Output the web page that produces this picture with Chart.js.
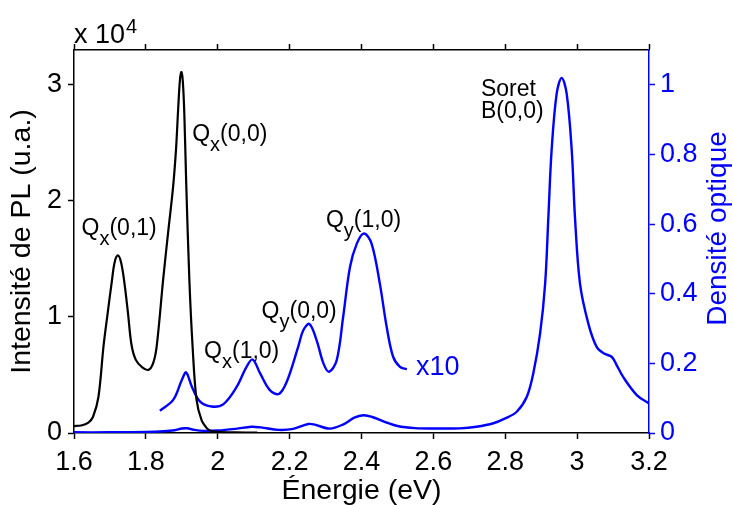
<!DOCTYPE html>
<html>
<head>
<meta charset="utf-8">
<script src="https://cdn.jsdelivr.net/npm/chart.js@4.4.1/dist/chart.umd.min.js"></script>
<style>
  html, body { margin: 0; padding: 0; background: #fff; }
</style>
</head>
<body>
<canvas id="spectre" width="733" height="505"></canvas>
<script>
// photoluminescence (left axis, counts)
const plEnergy = [1.60, 1.62, 1.64, 1.653, 1.668, 1.682, 1.694, 1.705, 1.713, 1.722, 1.731, 1.740, 1.750, 1.760, 1.772, 1.790, 1.807,
  1.82, 1.830, 1.848, 1.862, 1.876, 1.884, 1.890, 1.895, 1.899, 1.903, 1.907, 1.912, 1.921, 1.930, 1.941, 1.955, 1.97, 1.98, 2.00, 2.05, 2.11];
const plCounts = [600, 650, 900, 1400, 3100, 7450, 10400, 13000, 14700, 15300, 14700, 13000, 10400, 7600, 6300, 5650, 5440,
  6000, 7450, 13200, 17300, 21300, 24500, 28000, 30500, 31100, 30200, 27500, 21800, 13200, 7450, 2850, 1100, 400, 200, 100, 50, 30];

// optical density (right axis)
const absEnergy = [1.60, 1.70, 1.80, 1.85, 1.88, 1.90, 1.915, 1.93, 1.96, 2.00, 2.05, 2.094, 2.12, 2.17, 2.21, 2.252, 2.27, 2.312,
  2.35, 2.38, 2.405, 2.43, 2.47, 2.50, 2.55, 2.60, 2.674, 2.72, 2.767, 2.80, 2.832, 2.86, 2.878, 2.897, 2.911, 2.920, 2.929,
  2.943, 2.957, 2.971, 2.985, 2.994, 3.008, 3.031, 3.054, 3.075, 3.096, 3.11, 3.128, 3.166, 3.20];
const absDensity = [0.002, 0.002, 0.003, 0.005, 0.008, 0.013, 0.0135, 0.010, 0.006, 0.007, 0.012, 0.018, 0.016, 0.009, 0.012, 0.026, 0.024, 0.0125,
  0.025, 0.044, 0.051, 0.046, 0.030, 0.020, 0.014, 0.013, 0.0134, 0.018, 0.028, 0.042, 0.061, 0.104, 0.171, 0.286, 0.429, 0.620, 0.812,
  0.974, 1.020, 0.974, 0.812, 0.620, 0.429, 0.315, 0.248, 0.228, 0.219, 0.195, 0.161, 0.109, 0.085];

// Q bands magnified x10
const x10Energy = [1.839, 1.876, 1.900, 1.912, 1.928, 1.951, 1.983, 2.016, 2.053, 2.080, 2.097, 2.118, 2.145, 2.170, 2.192, 2.224,
  2.238, 2.255, 2.275, 2.294, 2.310, 2.331, 2.349, 2.368, 2.387, 2.407, 2.428, 2.451, 2.470, 2.488, 2.507, 2.526];
const x10Density = [0.064, 0.095, 0.152, 0.174, 0.133, 0.090, 0.076, 0.083, 0.133, 0.190, 0.211, 0.171, 0.123, 0.112, 0.147, 0.248,
  0.295, 0.313, 0.267, 0.200, 0.176, 0.209, 0.334, 0.477, 0.544, 0.573, 0.544, 0.429, 0.305, 0.219, 0.190, 0.183];

const leftTicks = [0, 10000, 20000, 30000];
const rightTicks = [0, 0.2, 0.4, 0.6, 0.8, 1];

const FONT = '"Liberation Sans", Arial, Helvetica, sans-serif';
const BLUE = '#0000ff';

// band labels, placed in (eV, optical density) units
const notes = [
  { main: 'Q', sub: 'x', rest: '(0,1)', e: 1.621, d: 0.568 },
  { main: 'Q', sub: 'x', rest: '(0,0)', e: 1.929, d: 0.839 },
  { main: 'Q', sub: 'x', rest: '(1,0)', e: 1.962, d: 0.214 },
  { main: 'Q', sub: 'y', rest: '(0,0)', e: 2.122, d: 0.331 },
  { main: 'Q', sub: 'y', rest: '(1,0)', e: 2.301, d: 0.592 },
  { main: 'Soret', e: 2.7325, d: 0.969 },
  { main: 'B(0,0)', e: 2.7325, d: 0.9045 }
];

function pairs(xs, ys) {
  return xs.map((x, i) => ({ x: x, y: ys[i] }));
}

Chart.defaults.font.family = FONT;
Chart.defaults.color = '#000';

const notesPlugin = {
  id: 'notes',
  afterDraw(chart) {
    const ctx = chart.ctx;
    const sx = chart.scales.x, sy = chart.scales.y2, area = chart.chartArea;
    ctx.save();
    ctx.textAlign = 'left';
    ctx.textBaseline = 'alphabetic';
    ctx.fillStyle = '#000';
    notes.forEach(n => {
      let px = sx.getPixelForValue(n.e);
      const py = sy.getPixelForValue(n.d);
      ctx.font = '23px ' + FONT;
      ctx.fillText(n.main, px, py);
      px += ctx.measureText(n.main).width;
      if (n.sub) {
        ctx.font = '20px ' + FONT;
        ctx.fillText(n.sub, px, py + 10);
        px += ctx.measureText(n.sub).width;
      }
      if (n.rest) {
        ctx.font = '23px ' + FONT;
        ctx.fillText(n.rest, px, py);
      }
    });

    // x10 tag next to the magnified curve
    ctx.fillStyle = BLUE;
    ctx.font = '27px ' + FONT;
    ctx.fillText('x10', sx.getPixelForValue(2.5516), sy.getPixelForValue(0.168));

    // exponent of the left axis
    ctx.fillStyle = '#000';
    ctx.font = '27px ' + FONT;
    ctx.fillText('x 10', area.left, area.top - 7);
    const w = ctx.measureText('x 10').width;
    ctx.font = '20px ' + FONT;
    ctx.fillText('4', area.left + w + 1, area.top - 17);

    // right axis title, reading bottom to top
    ctx.translate(726, (area.top + area.bottom) / 2 - 13);
    ctx.rotate(-Math.PI / 2);
    ctx.textAlign = 'center';
    ctx.fillStyle = BLUE;
    ctx.font = '28px ' + FONT;
    ctx.fillText('Densité optique', 0, 0);
    ctx.restore();
  }
};

function fixWidth(w) { return scale => { scale.width = w; }; }
function fixHeight(h) { return scale => { scale.height = h; }; }

new Chart('spectre', {
  type: 'line',
  data: {
    datasets: [
      {
        label: 'PL',
        data: pairs(plEnergy, plCounts),
        yAxisID: 'y',
        borderColor: '#000',
        borderWidth: 2.2,
        pointRadius: 0,
        tension: 0.35
      },
      {
        label: 'Densité optique',
        data: pairs(absEnergy, absDensity),
        yAxisID: 'y2',
        borderColor: BLUE,
        borderWidth: 2.4,
        pointRadius: 0,
        tension: 0.35
      },
      {
        label: 'x10',
        data: pairs(x10Energy, x10Density),
        yAxisID: 'y2',
        borderColor: BLUE,
        borderWidth: 2.4,
        pointRadius: 0,
        tension: 0.35
      }
    ]
  },
  options: {
    responsive: false,
    animation: false,
    layout: { padding: 0 },
    plugins: {
      legend: { display: false },
      tooltip: { enabled: false }
    },
    scales: {
      x: {
        type: 'linear',
        position: 'bottom',
        min: 1.6,
        max: 3.2,
        afterFit: fixHeight(72),
        border: { color: '#000', width: 1.5 },
        grid: { drawOnChartArea: false, tickLength: 6, tickWidth: 1.5, color: '#000' },
        ticks: {
          stepSize: 0.2,
          padding: 7,
          maxRotation: 0,
          font: { size: 27 },
          callback: v => String(+v.toFixed(1))
        },
        title: {
          display: true,
          text: 'Énergie (eV)',
          font: { size: 28.5, lineHeight: 1 },
          padding: 0
        }
      },
      xTop: {
        type: 'linear',
        position: 'top',
        min: 1.6,
        max: 3.2,
        afterFit: fixHeight(50),
        border: { color: '#000', width: 1.5 },
        grid: { drawOnChartArea: false, tickLength: 6, tickWidth: 1.5, color: '#000' },
        ticks: { stepSize: 0.2, display: false }
      },
      y: {
        type: 'linear',
        position: 'left',
        min: 0,
        max: 33000,
        afterFit: fixWidth(74),
        afterBuildTicks: scale => { scale.ticks = leftTicks.map(v => ({ value: v })); },
        border: { color: '#000', width: 1.5 },
        grid: { drawOnChartArea: false, tickLength: 6, tickWidth: 1.5, color: '#000' },
        ticks: {
          padding: 6,
          font: { size: 27 },
          callback: v => String(v / 10000)
        },
        title: {
          display: true,
          text: 'Intensité de PL (u.a.)',
          font: { size: 28.5 },
          padding: { top: 5, bottom: 0 }
        }
      },
      y2: {
        type: 'linear',
        position: 'right',
        min: 0,
        max: 1.1,
        afterFit: fixWidth(84),
        afterBuildTicks: scale => { scale.ticks = rightTicks.map(v => ({ value: v })); },
        border: { color: BLUE, width: 1.5 },
        grid: { drawOnChartArea: false, tickLength: 6, tickWidth: 1.5, color: BLUE },
        ticks: {
          padding: 5,
          color: BLUE,
          font: { size: 27 },
          callback: v => String(+v.toFixed(1))
        }
      }
    }
  },
  plugins: [notesPlugin]
});
</script>
</body>
</html>
